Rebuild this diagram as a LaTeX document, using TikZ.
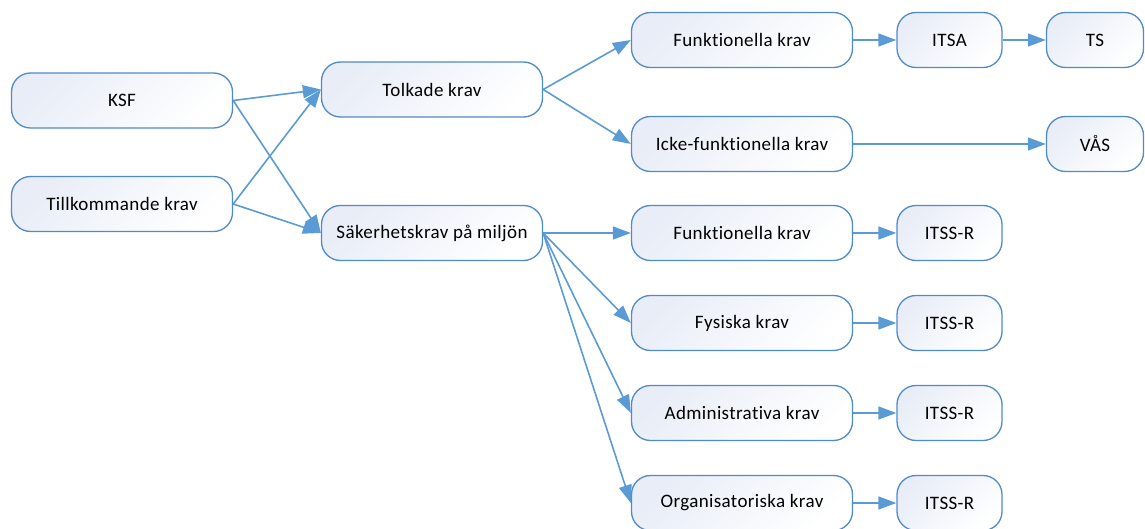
\documentclass[tikz,border=0pt]{standalone}
\usepackage{fontspec}
\setmainfont{Carlito}[Ligatures=NoCommon, LetterSpace=2]
\usetikzlibrary{arrows.meta}
\definecolor{edgeblue}{HTML}{5B9BD5}
\definecolor{boxline}{HTML}{4F8BC9}
\definecolor{boxtint}{HTML}{E8EDF7}
\tikzset{
  box/.style={rectangle, rounded corners=19pt, draw=boxline, line width=1.3pt,
    top color=boxtint, bottom color=white, shading angle=45,
    minimum height=55pt, inner sep=0pt,
    font=\fontsize{19pt}{23pt}\selectfont, text=black},
  wide/.style={box, minimum width=221pt},
  narrow/.style={box, minimum width=105pt},
  conn/.style={draw=edgeblue, line width=1.6pt, -{Triangle[length=18pt,width=13pt]}}
}
\begin{document}
\begin{tikzpicture}[x=1pt,y=-1pt]
\useasboundingbox (0,0) rectangle (1145,529);
\node[wide] (ksf) at (122,100.5) {KSF};
\node[wide] (till) at (122,204) {Tillkommande krav};
\node[wide] (tolk) at (432,89.5) {Tolkade krav};
\node[wide] (sak) at (432,233) {Säkerhetskrav på miljön};
\node[wide] (funk1) at (742,40) {Funktionella krav};
\node[wide] (icke) at (742,144) {Icke-funktionella krav};
\node[narrow] (itsa) at (949.5,40) {ITSA};
\node[box, minimum width=97pt] (ts) at (1095,40) {TS};
\node[box, minimum width=97pt] (vas) at (1095,144) {VÅS};
\node[wide] (funk2) at (742,233) {Funktionella krav};
\node[wide] (fys) at (742,323) {Fysiska krav};
\node[wide] (adm) at (742,413) {Administrativa krav};
\node[wide] (org) at (742,503) {Organisatoriska krav};
\node[narrow] (r1) at (949.5,233) {ITSS-R};
\node[narrow] (r2) at (949.5,323) {ITSS-R};
\node[narrow] (r3) at (949.5,413) {ITSS-R};
\node[narrow] (r4) at (949.5,503) {ITSS-R};
\draw[conn] (ksf.east) -- (tolk.west);
\draw[conn] (ksf.east) -- (sak.west);
\draw[conn] (till.east) -- (tolk.west);
\draw[conn] (till.east) -- (sak.west);
\draw[conn] (tolk.east) -- (funk1.west);
\draw[conn] (tolk.east) -- (icke.west);
\draw[conn] (funk1) -- (itsa);
\draw[conn] (itsa) -- (ts);
\draw[conn] (icke) -- (vas);
\draw[conn] (sak.east) -- (funk2.west);
\draw[conn] (sak.east) -- (fys.west);
\draw[conn] (sak.east) -- (adm.west);
\draw[conn] (sak.east) -- (org.west);
\draw[conn] (funk2) -- (r1);
\draw[conn] (fys) -- (r2);
\draw[conn] (adm) -- (r3);
\draw[conn] (org) -- (r4);
\end{tikzpicture}
\end{document}
